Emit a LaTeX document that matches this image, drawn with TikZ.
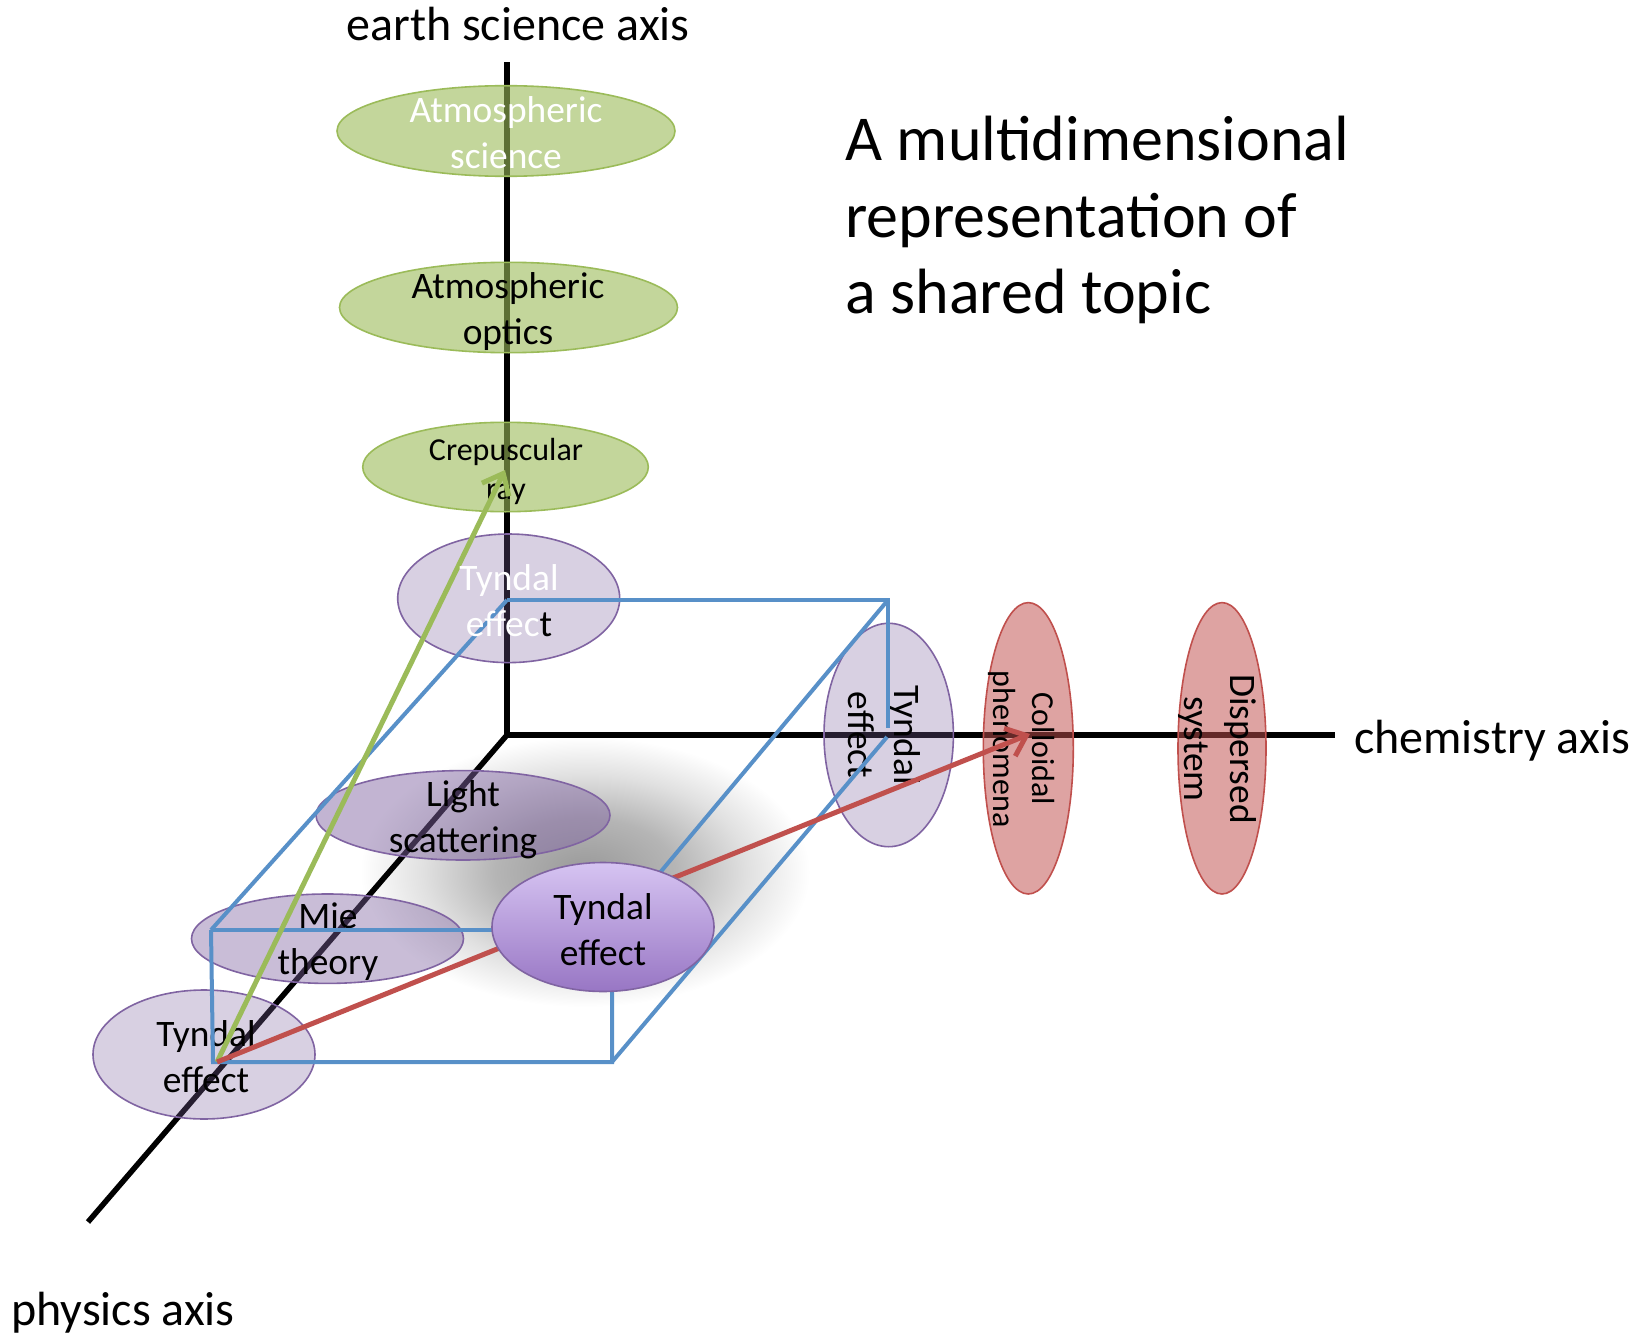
\documentclass[tikz,border=0pt]{standalone}
\usepackage{fontspec}
\setmainfont{Carlito}
\usetikzlibrary{shapes.geometric, arrows.meta}

\definecolor{greenacc}{RGB}{155,187,89}
\definecolor{purpacc}{RGB}{128,100,162}
\definecolor{redacc}{RGB}{192,80,77}
\definecolor{boxblue}{RGB}{88,144,200}
\definecolor{tyntopc}{RGB}{214,196,242}
\definecolor{tynbotc}{RGB}{152,118,196}

% soft cast shadow under the highlighted topic
\pgfdeclareradialshading{softshadow}{\pgfpoint{0bp}{0bp}}{%
  color(0bp)=(black!40); color(10bp)=(black!29); color(18bp)=(black!12);
  color(25bp)=(white); color(50bp)=(white)}

\begin{document}
\begin{tikzpicture}[x=0.5pt, y=-0.5pt,
  axis/.style={line width=2.75pt, black},
  axislabel/.style={font=\fontsize{24pt}{28pt}\selectfont, inner sep=0pt, anchor=base},
  blob/.style={ellipse, inner sep=0pt, line width=0.8pt},
  greenblob/.style={blob, draw=greenacc, fill=greenacc, fill opacity=0.6},
  lightpurple/.style={blob, draw=purpacc, fill=purpacc, fill opacity=0.3},
  midpurple/.style={blob, draw=purpacc, fill=purpacc, fill opacity=0.48},
  redblob/.style={blob, draw=redacc, fill=redacc, fill opacity=0.52},
  brightpurple/.style={blob, draw=purpacc, top color=tyntopc, bottom color=tynbotc},
  bigtext/.style={align=center, inner sep=0pt, font=\fontsize{18.7pt}{23pt}\selectfont},
  smalltext/.style={align=center, inner sep=0pt, font=\fontsize{16pt}{19.5pt}\selectfont},
  boxedge/.style={boxblue, line width=2pt},
  link/.style={line width=2.5pt, -{Straight Barb[length=9pt,width=15pt]}},
]
\useasboundingbox (0,0) rectangle (1651,1338);
\fill[white] (0,0) rectangle (1651,1338);

% shadow
\shade[shading=softshadow] (585,872) ellipse [x radius=225, y radius=135];

% axes
\coordinate (O) at (507,735);
\coordinate (ztop) at (507,62);
\coordinate (xend) at (1335,735);
\coordinate (yend) at (88,1222);
\draw[axis] (O) -- (ztop);
\draw[axis] (O) -- (xend);
\draw[axis] (O) -- (yend);

\node[axislabel] (lblearth) at (518,41) {earth science axis};
\node[axislabel] (lblchem) at (1492,753) {chemistry axis};
\node[axislabel] (lblphys) at (123,1325) {physics axis};

\node[anchor=west, align=left, inner sep=0pt,
      font=\fontsize{32pt}{38.3pt}\selectfont] (title) at (845,220)
  {A multidimensional\\representation of\\a shared topic};

% earth science topics
\node[greenblob, minimum width=169pt, minimum height=45.3pt] (atmsci) at (506,131) {};
\node[bigtext, text=white] (atmscit) at (506,133) {Atmospheric\\science};
\node[greenblob, minimum width=169pt, minimum height=45.2pt] (atmopt) at (508.5,307.5) {};
\node[bigtext] (atmoptt) at (508,312) {Atmospheric\\optics};
\node[greenblob, minimum width=142.8pt, minimum height=44.7pt] (crep) at (505.5,467) {};
\node[smalltext] (crept) at (506,471) {Crepuscular\\ray};

% physics topics
\node[lightpurple, minimum width=111pt, minimum height=64.3pt] (tyntop) at (508.7,598.3) {};
\node[midpurple, minimum width=147pt, minimum height=44.7pt] (light) at (463,815.3) {};
\node[bigtext] (lightt) at (463,820) {Light\\scattering};
\node[midpurple, fill opacity=0.42, minimum width=136pt, minimum height=44.7pt] (mie) at (327.5,938.7) {};
\node[bigtext] (miet) at (328,942) {Mie\\theory};
\node[lightpurple, minimum width=111pt, minimum height=64.5pt] (tynlow) at (204,1054.5) {};
\node[bigtext] (tynlowt) at (206,1057) {Tyndal\\effect};
\node[lightpurple, minimum width=64.7pt, minimum height=111.7pt] (tynrot) at (888.7,735) {};
\node[bigtext, rotate=-90] (tynrott) at (884,735) {Tyndal\\effect};

% chemistry topics
\node[redblob, minimum width=45pt, minimum height=145.7pt] (coll) at (1028.3,748.3) {};
\node[smalltext, rotate=-90] (collt) at (1022,749) {Colloidal\\phenomena};
\node[redblob, minimum width=44pt, minimum height=145.7pt] (disp) at (1222,748.3) {};
\node[bigtext, rotate=-90] (dispt) at (1217,749) {Dispersed\\system};

% box spanned by the three axes
\coordinate (A) at (507,600);
\coordinate (B) at (888,600);
\coordinate (Bb) at (888,728);
\coordinate (C) at (887,737);
\coordinate (D) at (211,930);
\coordinate (E) at (612,930);
\coordinate (F) at (213,1062);
\coordinate (G) at (612,1062);
\draw[boxedge] (A) -- (B) -- (Bb);
\draw[boxedge] (A) -- (D);
\draw[boxedge] (B) -- (E);
\draw[boxedge] (D) -- (E);
\draw[boxedge] (D) -- (F) -- (G) -- (E);
\draw[boxedge] (C) -- (G);

% links from the corner topic
\coordinate (start) at (217,1062);
\coordinate (raytip) at (505,470);
\coordinate (colltip) at (1030,734);
\draw[link, greenacc] (start) -- (raytip);
\draw[link, redacc] (start) -- (colltip);

\node[bigtext, text=white] (tyntopt) at (509,601) {Tyndal\\effec\textcolor{black}{t}};

% highlighted topic
\node[brightpurple, minimum width=111pt, minimum height=64.5pt] (tynmid) at (603,927) {};
\node[bigtext] (tynmidt) at (603,930) {Tyndal\\effect};
\end{tikzpicture}
\end{document}
